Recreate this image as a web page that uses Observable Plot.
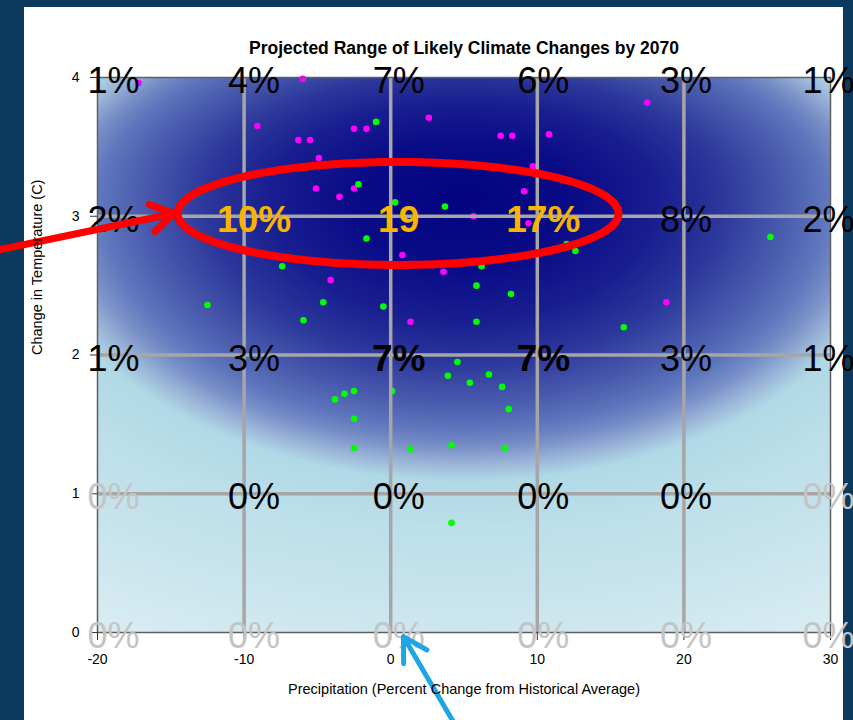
<!DOCTYPE html>
<html>
<head>
<meta charset="utf-8">
<script src="https://cdn.jsdelivr.net/npm/d3@7"></script>
<script src="https://cdn.jsdelivr.net/npm/@observablehq/plot@0.6"></script>
<style>
  html, body { margin: 0; padding: 0; }
  body { width: 853px; height: 720px; background: #0c3a5e; position: relative; overflow: hidden; font-family: "Liberation Sans", Arial, sans-serif; }
  #panel { position: absolute; left: 24px; top: 7px; width: 819px; height: 713px; background: #ffffff; }
  #chart { position: absolute; left: 0; top: 0; }
</style>
</head>
<body>
<div id="panel"></div>
<div id="chart"></div>
<script>
// ---------- data ----------
const chartTitle = "Projected Range of Likely Climate Changes by 2070";
const xTitle = "Precipitation (Percent Change from Historical Average)";
const yTitle = "Change in Temperature (C)";

const precipTicks = [-20, -10, 0, 10, 20, 30];
const tempTicks = [0, 1, 2, 3, 4];

// percent labels at grid intersections (rows = temperature 4..0, cols = precipitation -20..30)
const labelRowsTemp = [4, 3, 2, 1, 0];
const cellLabels = [
  ["1%", "4%", "7%", "6%", "3%", "1%"],
  ["2%", "10%", "19", "17%", "8%", "2%"],
  ["1%", "3%", "7%", "7%", "3%", "1%"],
  ["0%", "0%", "0%", "0%", "0%", "0%"],
  ["0%", "0%", "0%", "0%", "0%", "0%"]
];
const cellEmphasis = [
  ["plain", "plain", "plain", "plain", "plain", "plain"],
  ["plain", "gold", "gold", "gold", "plain", "plain"],
  ["plain", "plain", "bold", "bold", "plain", "plain"],
  ["faint", "plain", "plain", "plain", "plain", "faint"],
  ["faint", "faint", "faint", "faint", "faint", "faint"]
];

// model projections
const magentaPrecip = [-17.2, -6.0, -9.1, -6.3, -5.5, -4.9, -2.5, -1.65, 2.6, 7.5, 8.3, 10.8, 17.5,
  -5.1, -3.5, -2.5, 5.65, 9.1, 9.4, 9.7, 0.8, -4.1, 3.6, 1.35, 18.8];
const magentaTemp = [3.96, 3.99, 3.65, 3.55, 3.55, 3.42, 3.63, 3.63, 3.71, 3.58, 3.58, 3.59, 3.82,
  3.20, 3.14, 3.20, 3.00, 3.18, 2.95, 3.36, 2.72, 2.54, 2.60, 2.24, 2.38];

const greenPrecip = [-1.0, -2.2, 0.3, 3.7, -1.65, 12.0, 12.6, -7.4, 6.2, -12.5, -4.6, 5.85, 8.2, -0.5,
  -5.95, 5.85, 4.55, 3.9, 5.4, 6.7, 7.6, 8.05, -3.8, -3.15, -2.5, 0.1, -2.5, -2.5, 1.35, 4.15, 7.8,
  4.15, 15.9, 25.9];
const greenTemp = [3.68, 3.23, 3.10, 3.07, 2.84, 2.80, 2.75, 2.64, 2.64, 2.36, 2.38, 2.50, 2.44, 2.35,
  2.25, 2.24, 1.95, 1.85, 1.80, 1.86, 1.77, 1.61, 1.68, 1.72, 1.74, 1.74, 1.54, 1.33, 1.32, 1.35, 1.33,
  0.79, 2.20, 2.85];

// annotations (data units)
const highlightEllipse = {cx: 0.5, cy: 3.02, rx: 15.04, ry: 0.371};
const redArrow = [{x1: -26.6, y1: 2.76, x2: -14.8, y2: 3.02}];
const blueArrow = [{x1: 4.22, y1: -0.634, x2: 0.87, y2: -0.03}];

// likelihood surface (elliptical falloff around the cluster of projections)
const surface = {cx: 5, cy: 3.15, sx: 22, syUp: 1.1, syDown: 1.5};
const surfaceStops = [0, 0.35, 0.6, 0.8, 1.0, 1.13, 1.21, 1.29, 1.37, 1.6, 1.9, 2.2, 2.6, 3.0];
const surfaceColors = ["#03037f", "#0a0c87", "#181e90", "#2c379b", "#4a5cae", "#6078be", "#7a90c8",
  "#9ab4d8", "#b0d8e6", "#bcdfe9", "#c6e3ec", "#d2e9f0", "#e4f1f5", "#eef6f9"];

// ---------- build ----------
const font = "Liberation Sans, Arial, Helvetica, sans-serif";
const magenta = magentaPrecip.map((x, i) => ({x, y: magentaTemp[i]}));
const green = greenPrecip.map((x, i) => ({x, y: greenTemp[i]}));

const labels = [];
labelRowsTemp.forEach((t, r) => precipTicks.forEach((p, c) => {
  labels.push({x: p, y: t, text: cellLabels[r][c], kind: cellEmphasis[r][c], col: c});
}));

const ellipsePts = d3.range(0, 361, 2).map(a => {
  const th = a * Math.PI / 180;
  return {x: highlightEllipse.cx + highlightEllipse.rx * Math.cos(th),
          y: highlightEllipse.cy + highlightEllipse.ry * Math.sin(th)};
});

function surfaceDist(x, y) {
  const dx = (x - surface.cx) / surface.sx;
  const dy = (y - surface.cy) / (y >= surface.cy ? surface.syUp : surface.syDown);
  return Math.sqrt(dx * dx + dy * dy);
}

const kindStyle = {
  plain: {fill: "#000000", fontWeight: "normal", fontSize: 36},
  faint: {fill: "#c4c4c4", fontWeight: "normal", fontSize: 36},
  bold:  {fill: "#000000", fontWeight: "bold", fontSize: 37},
  gold:  {fill: "#f7b500", fontWeight: "bold", fontSize: 37}
};
const colDx = [16, 10, 8, 6, 2, -2];

const labelMarks = [];
for (const kind of Object.keys(kindStyle)) {
  precipTicks.forEach((p, c) => {
    const subset = labels.filter(d => d.kind === kind && d.col === c);
    if (!subset.length) return;
    const s = kindStyle[kind];
    labelMarks.push(Plot.text(subset, {
      x: "x", y: "y", text: "text", dx: colDx[c], dy: 4,
      fill: s.fill, fontWeight: s.fontWeight, fontSize: s.fontSize, fontFamily: font
    }));
  });
}

let background;
if (typeof Plot.raster === "function") {
  background = Plot.raster({
    x1: -20, x2: 30, y1: 0, y2: 4,
    fill: (x, y) => surfaceDist(x, y),
    pixelSize: 1
  });
} else {
  const cells = [];
  for (let x = -20; x < 30; x += 0.25) for (let y = 0; y < 4; y += 0.02)
    cells.push({x1: x, x2: x + 0.25, y1: y, y2: y + 0.02, v: surfaceDist(x + 0.125, y + 0.01)});
  background = Plot.rect(cells, {x1: "x1", x2: "x2", y1: "y1", y2: "y2", fill: "v"});
}

const hasAxisMarks = typeof Plot.axisX === "function";
const axisMarks = hasAxisMarks ? [
  Plot.axisX(precipTicks, {tickSize: 8, tickPadding: 14, fontSize: 14, fontFamily: font, fill: "#000", stroke: "#333", tickFormat: d => String(d), label: null}),
  Plot.axisY(tempTicks, {tickSize: 7, tickPadding: 11, fontSize: 14, fontFamily: font, fill: "#000", stroke: "#333", tickFormat: d => String(d), label: null})
] : [];

const chart = Plot.plot({
  width: 853,
  height: 720,
  marginLeft: 97,
  marginRight: 23,
  marginTop: 77,
  marginBottom: 88,
  style: {background: "transparent", fontFamily: font, fontSize: "14px", color: "#000", overflow: "visible"},
  x: {domain: [-20, 30], ticks: precipTicks, tickSize: 8, tickPadding: 14, label: null, tickFormat: d => String(d)},
  y: {domain: [0, 4], ticks: tempTicks, tickSize: 7, tickPadding: 11, label: null, tickFormat: d => String(d)},
  color: {type: "linear", domain: surfaceStops, range: surfaceColors, clamp: true},
  marks: [
    background,
    Plot.dot(magenta, {x: "x", y: "y", r: 3.3, fill: "#ff00ff", stroke: null}),
    Plot.dot(green, {x: "x", y: "y", r: 3.3, fill: "#00ff00", stroke: null}),
    Plot.ruleX(precipTicks.slice(1, -1), {stroke: "#a6a6a6", strokeWidth: 3.5}),
    Plot.ruleY(tempTicks.slice(1, -1), {stroke: "#a6a6a6", strokeWidth: 3.5}),
    Plot.frame({stroke: "#5f5f5f", strokeWidth: 1.5}),
    ...axisMarks,
    ...labelMarks,
    Plot.line(ellipsePts, {x: "x", y: "y", stroke: "#ff0000", strokeWidth: 8, curve: "linear-closed"}),
    Plot.arrow(redArrow, {x1: "x1", y1: "y1", x2: "x2", y2: "y2", stroke: "#ff0000", strokeWidth: 7,
      headLength: 5.6, headAngle: 64, strokeLinecap: "round", strokeLinejoin: "round"}),
    Plot.arrow(blueArrow, {x1: "x1", y1: "y1", x2: "x2", y2: "y2", stroke: "#1ea5e3", strokeWidth: 5,
      headLength: 8.1, headAngle: 60, strokeLinecap: "round", strokeLinejoin: "round"}),
    Plot.text([chartTitle], {frameAnchor: "top", dy: -36, text: d => d, fontSize: 17.5, fontWeight: "bold", fontFamily: font, fill: "#000"}),
    Plot.text([xTitle], {frameAnchor: "bottom", dy: 61, text: d => d, fontSize: 14.5, fontFamily: font, fill: "#000"}),
    Plot.text([yTitle], {frameAnchor: "left", dx: -60, rotate: -90, text: d => d, fontSize: 14.5, fontFamily: font, fill: "#000"})
  ]
});
// enlarge axis tick labels (the axis groups carry their own font-size)
d3.select(chart).selectAll('g[aria-label="x-axis tick label"], g[aria-label="y-axis tick label"]')
  .attr("font-size", 14).style("font-size", "14px");
document.getElementById("chart").appendChild(chart);
</script>
</body>
</html>
